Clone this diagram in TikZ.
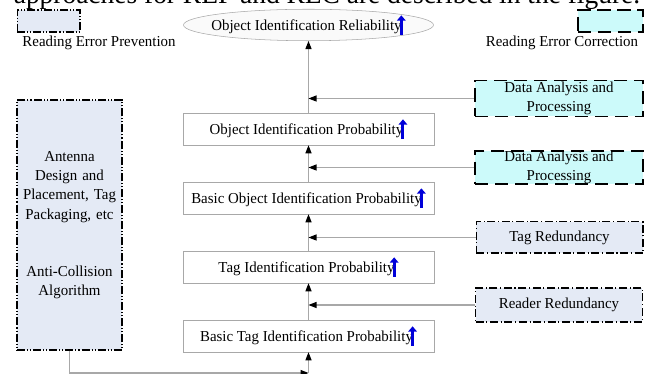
\documentclass[tikz,border=0pt]{standalone}
\usepackage{fontspec}
\setmainfont{Liberation Serif}[FakeStretch=0.98]
\usetikzlibrary{shapes.geometric, arrows.meta}
\definecolor{prevfill}{HTML}{E4EAF5}
\definecolor{corrfill}{HTML}{CCFAFA}
\definecolor{linegray}{HTML}{A8A8A8}
\newcommand{\boxfont}{\fontsize{11.4}{14.6}\selectfont}
\newcommand{\upmark}{\kern-3.5pt\tikz[baseline=0pt]\draw[blue!85!black, line width=2.2pt, -{Triangle[length=4pt,width=6.5pt]}] (0,-3pt) -- (0,11.5pt);}
\tikzstyle{goal} = [ellipse, minimum width=187.5pt, minimum height=22.5pt, inner xsep=-12pt, inner ysep=0pt, text centered, draw=linegray, fill=gray!4, font=\boxfont]
\tikzstyle{prob} = [rectangle, minimum width=188pt, minimum height=24pt, inner xsep=1pt, text centered, draw=linegray, fill=white, font=\boxfont]
\tikzstyle{prevent} = [rectangle, draw=black, line width=1pt, fill=prevfill, dash pattern=on 6pt off 1.5pt on 0.8pt off 1.5pt on 0.8pt off 1.5pt, font=\boxfont]
\tikzstyle{redund} = [rectangle, minimum width=125pt, minimum height=23.5pt, draw=black, line width=1pt, fill=prevfill, dash pattern=on 6pt off 2pt on 0.8pt off 2pt, text centered, font=\boxfont]
\tikzstyle{correct} = [rectangle, minimum width=126pt, inner sep=0pt, align=center, draw=black, line width=1.2pt, fill=corrfill, dash pattern=on 10pt off 5pt, font=\boxfont]
\tikzstyle{arrow} = [draw=linegray, line width=0.8pt, -{Triangle[black, length=6pt, width=4.5pt]}]

\begin{document}
\begin{tikzpicture}[x=0.75pt, y=0.75pt, node distance=51.75pt]
\useasboundingbox (0,0) rectangle (658,374);

\node (intro) [anchor=base, font=\fontsize{21}{24}\selectfont] at (327,370) {approaches for REP and REC are described in the figure.};

\node (rel) [goal] at (308.5,349) {Object Identification Reliability\upmark};
\node (oip) [prob, below of=rel, yshift=-26.25pt] {Object Identification Probability\upmark};
\node (boip) [prob, below of=oip] {Basic Object Identification Probability\upmark};
\node (tip) [prob, below of=boip] {Tag Identification Probability\upmark};
\node (btip) [prob, below of=tip] {Basic Tag Identification Probability\upmark};

\node (prevkey) [prevent, minimum width=47pt, minimum height=16.5pt] at (48.5,353) {};
\node (prevtext) [font=\boxfont] at (99,331) {Reading Error Prevention};
\node (corrkey) [correct, minimum width=49pt, minimum height=16.5pt] at (610.5,353) {};
\node (corrtext) [font=\boxfont] at (562,331) {Reading Error Correction};

\node (antenna) [prevent, text width=74pt, minimum height=187.5pt, inner xsep=2.4pt, align=center] at (69.5,149) {Antenna\\Design and\\Placement, Tag\\Packaging, etc\\[28pt]Anti-Collision\\Algorithm};

\node (data1) [correct, minimum height=27pt] at (559,275.5) {Data Analysis and\\Processing};
\node (data2) [correct, minimum height=24pt] at (559,206.5) {Data Analysis and\\Processing};
\node (tagred) [redund] at (559.5,136.5) {Tag Redundancy};
\node (readred) [redund, minimum height=25.5pt] at (559,69) {Reader Redundancy};

\coordinate (bend) at (308.5,1);

\draw [arrow] (oip) -- (rel);
\draw [arrow] (boip) -- (oip);
\draw [arrow] (tip) -- (boip);
\draw [arrow] (btip) -- (tip);
\draw [arrow] (data1.west) -- (data1.west -| oip);
\draw [arrow] (data2.west) -- (data2.west -| oip);
\draw [arrow] (tagred.west) -- (tagred.west -| oip);
\draw [arrow] (readred.west) -- (readred.west -| oip);
\draw [arrow] (antenna.south) |- (bend);
\draw [arrow] (bend) -- (btip);

\end{tikzpicture}
\end{document}
